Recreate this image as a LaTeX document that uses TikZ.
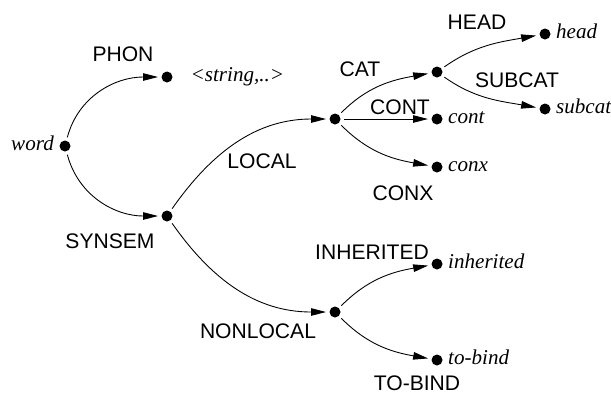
\documentclass[tikz,border=0pt]{standalone}
\usepackage{fontspec}
\setmainfont{Liberation Serif}
\setsansfont{Liberation Sans}
\usetikzlibrary{arrows.meta,positioning}
\tikzset{>={Triangle[length=3mm,width=1.5mm]}}
\tikzset{fdot/.style={circle,fill,minimum size=2.2mm,inner sep=0pt,outer sep=0.7mm},
  feat/.style={font=\fontsize{12}{14}\sffamily\selectfont,inner sep=0pt},
  val/.style={font=\fontsize{12}{14}\itshape\selectfont,inner sep=1pt,text height=1.4ex,text depth=0.2ex}}

\begin{document}
\begin{tikzpicture}[x=0.02cm,y=-0.02cm,line width=0.5pt]
\useasboundingbox (0,0) rectangle (611,393);
% the points
\node[fdot] (word) at (65,146) {};
\node[fdot] (phon) at (167,77) {};
\node[fdot] (synsem) at (167,216) {};
\node[fdot] (local) at (335,119) {};
\node[fdot] (nonlocal) at (335,312) {};
\node[fdot] (cat) at (437,72) {};
\node[fdot] (cont) at (437,119) {};
\node[fdot] (conx) at (437,167) {};
\node[fdot] (head) at (545,34) {};
\node[fdot] (subcat) at (545,109) {};
\node[fdot] (inher) at (437,264) {};
\node[fdot] (tobind) at (437,360) {};
% arcs
\draw[->] (word) to[out=75,in=180] (phon);
\draw[->] (word) to[out=-75,in=180] (synsem);
\draw[->] (synsem) to[out=55,in=180] (local);
\draw[->] (synsem) to[out=-55,in=180] (nonlocal);
\draw[->] (local) to[out=45,in=190] (cat);
\draw[->] (local) -- (cont);
\draw[->] (local) to[out=-45,in=170] (conx);
\draw[->] (cat) to[out=35,in=190] (head);
\draw[->] (cat) to[out=-35,in=170] (subcat);
\draw[->] (nonlocal) to[out=45,in=190] (inher);
\draw[->] (nonlocal) to[out=-45,in=170] (tobind);
% feature names
\node[feat] (lphon) at (123,54) {PHON};
\node[feat] (lsynsem) at (110,241) {SYNSEM};
\node[feat] (llocal) at (262,161) {LOCAL};
\node[feat] (lnonlocal) at (258,331) {NONLOCAL};
\node[feat] (lcat) at (360,69) {CAT};
\node[feat] (lcont) at (400,107) {CONT};
\node[feat] (lconx) at (403,193) {CONX};
\node[feat] (lhead) at (477,22) {HEAD};
\node[feat] (lsubcat) at (517,80) {SUBCAT};
\node[feat] (linher) at (372,252) {INHERITED};
\node[feat] (ltobind) at (417,383) {TO-BIND};
% values
\node[val,left=0pt of word] (vword) {word};
\node[val,right=0.25cm of phon] (vphon) {<string,..>};
\node[val,right=0pt of cont] (vcont) {cont};
\node[val,right=0pt of conx] (vconx) {conx};
\node[val,right=0pt of head] (vhead) {head};
\node[val,right=0pt of subcat] (vsubcat) {subcat};
\node[val,right=0pt of inher] (vinher) {inherited};
\node[val,right=0pt of tobind] (vtobind) {to-bind};
\end{tikzpicture}
\end{document}
